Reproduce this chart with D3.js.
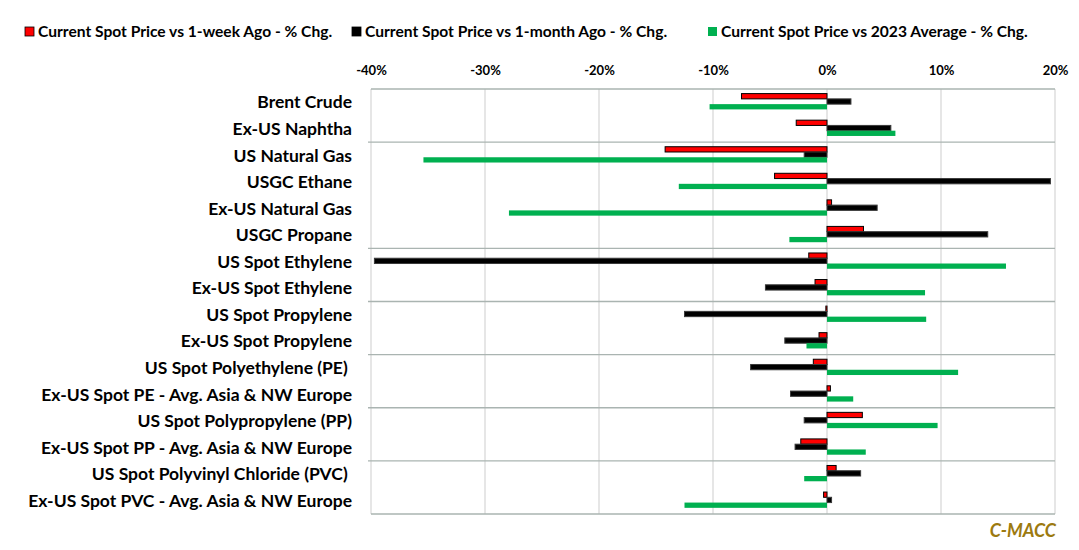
<!DOCTYPE html>
<html><head><meta charset="utf-8">
<script src="https://cdn.jsdelivr.net/npm/d3@7"></script>
<style>body{margin:0;background:#fff}svg{display:block}text{font-family:Lato,"Open Sans",sans-serif;font-weight:bold}</style>
</head><body><svg id="c" width="1079" height="550"></svg>
<script>
const categories = ["Brent Crude","Ex-US Naphtha","US Natural Gas","USGC Ethane","Ex-US Natural Gas","USGC Propane","US Spot Ethylene","Ex-US Spot Ethylene","US Spot Propylene","Ex-US Spot Propylene","US Spot Polyethylene (PE) ","Ex-US Spot PE - Avg. Asia & NW Europe","US Spot Polypropylene (PP)","Ex-US Spot PP - Avg. Asia & NW Europe","US Spot Polyvinyl Chloride (PVC) ","Ex-US Spot PVC - Avg. Asia & NW Europe"];
const seriesNames = ["Current Spot Price vs 1-week Ago - % Chg.","Current Spot Price vs 1-month Ago - % Chg.","Current Spot Price vs 2023 Average - % Chg."];
const weekChg  = [-7.5,-2.7,-14.2,-4.6,0.4,3.2,-1.6,-1.05,-0.1,-0.7,-1.2,0.3,3.1,-2.3,0.8,-0.3];
const monthChg = [2.1,5.6,-2.0,19.6,4.4,14.1,-39.7,-5.4,-12.5,-3.7,-6.7,-3.2,-2.0,-2.8,2.95,0.4];
const avgChg   = [-10.3,6.0,-35.4,-13.0,-27.9,-3.3,15.7,8.6,8.7,-1.8,11.5,2.3,9.7,3.4,-2.0,-12.5];
const xTicks = [-40,-30,-20,-10,0,10,20];
const groupBreaks = [2,6,8,10,12,14];
const colors = ["#ff0000","#000000","#00b050"];
const strokes = ["#000000","#3a3a3a","none"];

const svg = d3.select("#c");
const x = d3.scaleLinear().domain([-40,20]).range([371,1055]);
const y = d3.scaleBand().domain(categories).range([89,514]).padding(0);
const inner = d3.scaleBand().domain(d3.range(3)).range([4.6,20.4]).padding(0);
const series = [weekChg, monthChg, avgChg];

// vertical gridlines
svg.append("g").selectAll("line").data(xTicks).join("line")
  .attr("x1",d=>x(d)).attr("x2",d=>x(d)).attr("y1",89).attr("y2",514)
  .attr("stroke","#d9d9d9").attr("stroke-width",1.3);
// horizontal lines: top, group breaks, bottom
const hl = [89, ...groupBreaks.map(i=>y(categories[i])), 514];
svg.append("g").selectAll("line").data(hl).join("line")
  .attr("x1",(d,i)=> (i===0||i===hl.length-1)?371:368).attr("x2",1055)
  .attr("y1",d=>d).attr("y2",d=>d)
  .attr("stroke","#aab4b1").attr("stroke-width",1.4);

// top axis
const ax = svg.append("g").attr("transform","translate(0,89)")
  .call(d3.axisTop(x).tickValues(xTicks).tickFormat(d=>d+"%").tickSize(0).tickPadding(14));
ax.select(".domain").remove();
ax.selectAll("text").attr("font-size",13).attr("fill","#000").style("font-family","Lato,sans-serif").style("font-weight","bold");

// bars
series.forEach((vals,s)=>{
  svg.append("g").selectAll("rect").data(vals).join("rect")
    .attr("x",d=>x(Math.min(0,d)))
    .attr("width",d=>Math.abs(x(d)-x(0)))
    .attr("y",(d,i)=>y(categories[i])+inner(s))
    .attr("height",inner.bandwidth())
    .attr("fill",colors[s])
    .attr("stroke",strokes[s]).attr("stroke-width",s===2?0:1);
});

// category labels
svg.append("g").selectAll("text").data(categories).join("text")
  .attr("x",352).attr("y",d=>y(d)+y.bandwidth()/2)
  .attr("dy","0.35em").attr("text-anchor","end")
  .attr("font-size",17.5).attr("fill","#000")
  .style("white-space","pre").attr("xml:space","preserve")
  .text(d=>d);

// legend
const legX = [25,352,708];
const lg = svg.append("g");
seriesNames.forEach((n,i)=>{
  lg.append("rect").attr("x",legX[i]).attr("y",27).attr("width",9).attr("height",9)
    .attr("fill",colors[i]).attr("stroke",i===2?"none":"#000").attr("stroke-width",0.8);
  lg.append("text").attr("x",legX[i]+13).attr("y",32).attr("dy","0.35em")
    .attr("font-size",15.6).attr("fill","#000").text(n);
});

// source
svg.append("text").attr("x",1056).attr("y",537).attr("text-anchor","end")
  .attr("font-size",18).attr("font-style","italic").attr("fill","#9c7a10").text("C-MACC");
</script></body></html>
